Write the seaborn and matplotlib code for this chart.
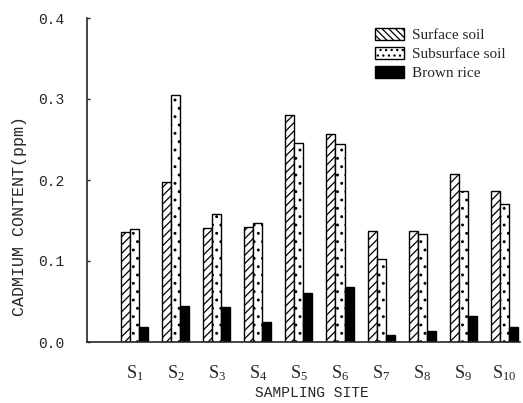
import matplotlib
matplotlib.use("Agg")
import matplotlib.pyplot as plt
from matplotlib.patches import Patch
import seaborn as sns
import pandas as pd

# Cadmium content (ppm) by sampling site
sites = ["S1", "S2", "S3", "S4", "S5", "S6", "S7", "S8", "S9", "S10"]
site_labels = [r"$\mathrm{S}_{1}$", r"$\mathrm{S}_{2}$", r"$\mathrm{S}_{3}$",
               r"$\mathrm{S}_{4}$", r"$\mathrm{S}_{5}$", r"$\mathrm{S}_{6}$",
               r"$\mathrm{S}_{7}$", r"$\mathrm{S}_{8}$", r"$\mathrm{S}_{9}$",
               r"$\mathrm{S}_{10}$"]
surface_soil = [0.136, 0.197, 0.141, 0.142, 0.280, 0.257, 0.137, 0.137, 0.207, 0.186]
subsurface_soil = [0.140, 0.305, 0.158, 0.147, 0.246, 0.245, 0.102, 0.133, 0.186, 0.170]
brown_rice = [0.018, 0.044, 0.043, 0.025, 0.060, 0.068, 0.009, 0.013, 0.032, 0.018]
series_names = ["Surface soil", "Subsurface soil", "Brown rice"]
y_ticks = [0.0, 0.1, 0.2, 0.3, 0.4]

sns.set_style("ticks")
plt.rcParams["font.family"] = ["Liberation Mono", "DejaVu Sans"]
plt.rcParams["mathtext.fontset"] = "custom"
plt.rcParams["mathtext.rm"] = "Liberation Serif"
plt.rcParams["mathtext.it"] = "Liberation Serif"
plt.rcParams["hatch.linewidth"] = 0.9

df = pd.DataFrame({
    "site": sites * 3,
    "value": surface_soil + subsurface_soil + brown_rice,
    "kind": [series_names[0]] * 10 + [series_names[1]] * 10 + [series_names[2]] * 10,
})

fig = plt.figure(figsize=(5.23, 4.03), dpi=100)
ax = fig.add_axes([87 / 523, 61 / 403, 433 / 523, 324 / 403])

sns.barplot(data=df, x="site", y="value", hue="kind", order=sites,
            hue_order=series_names, palette=["white", "white", "black"],
            width=0.66, gap=0, edgecolor="black", linewidth=1.0,
            legend=False, ax=ax, errorbar=None, saturation=1)

hatches = ["////", "..", None]
for container, h in zip(ax.containers, hatches):
    for bar in container:
        if h:
            bar.set_hatch(h)

ax.set_xlim(-1.156, 9.38)
ax.set_ylim(0, 0.4)
ax.set_yticks(y_ticks)
ax.set_yticklabels([f"{t:.1f}" for t in y_ticks], fontsize=10.5)
ax.set_xticks(range(len(sites)))
ax.set_xticklabels(site_labels, fontsize=13)
ax.tick_params(axis="y", direction="in", length=2, width=1, pad=16)
ax.tick_params(axis="x", length=0, pad=15)
sns.despine(ax=ax)
ax.spines["left"].set_linewidth(1.2)
ax.spines["bottom"].set_linewidth(1.2)

ax.set_xlabel("SAMPLING SITE", fontsize=10.5)
ax.xaxis.set_label_coords((312 - 87) / 433, (342 - 386) / 324)
ax.set_ylabel("CADMIUM CONTENT(ppm)", fontsize=12)
ax.yaxis.set_label_coords((27 - 87) / 433, (342 - 216) / 324)

handles = [
    Patch(facecolor="white", edgecolor="black", hatch="\\\\\\\\\\", label=series_names[0]),
    Patch(facecolor="white", edgecolor="black", hatch="...", label=series_names[1]),
    Patch(facecolor="black", edgecolor="black", label=series_names[2]),
]
fig.legend(handles=handles, loc="upper left", bbox_to_anchor=(375 / 523, 1 - 28 / 403),
           frameon=False, prop={"family": "Liberation Serif", "size": 11},
           handlelength=1.9, handleheight=0.85, handletextpad=0.55, labelspacing=0.3,
           borderaxespad=0, borderpad=0)

fig.savefig("out.png", dpi=100)
